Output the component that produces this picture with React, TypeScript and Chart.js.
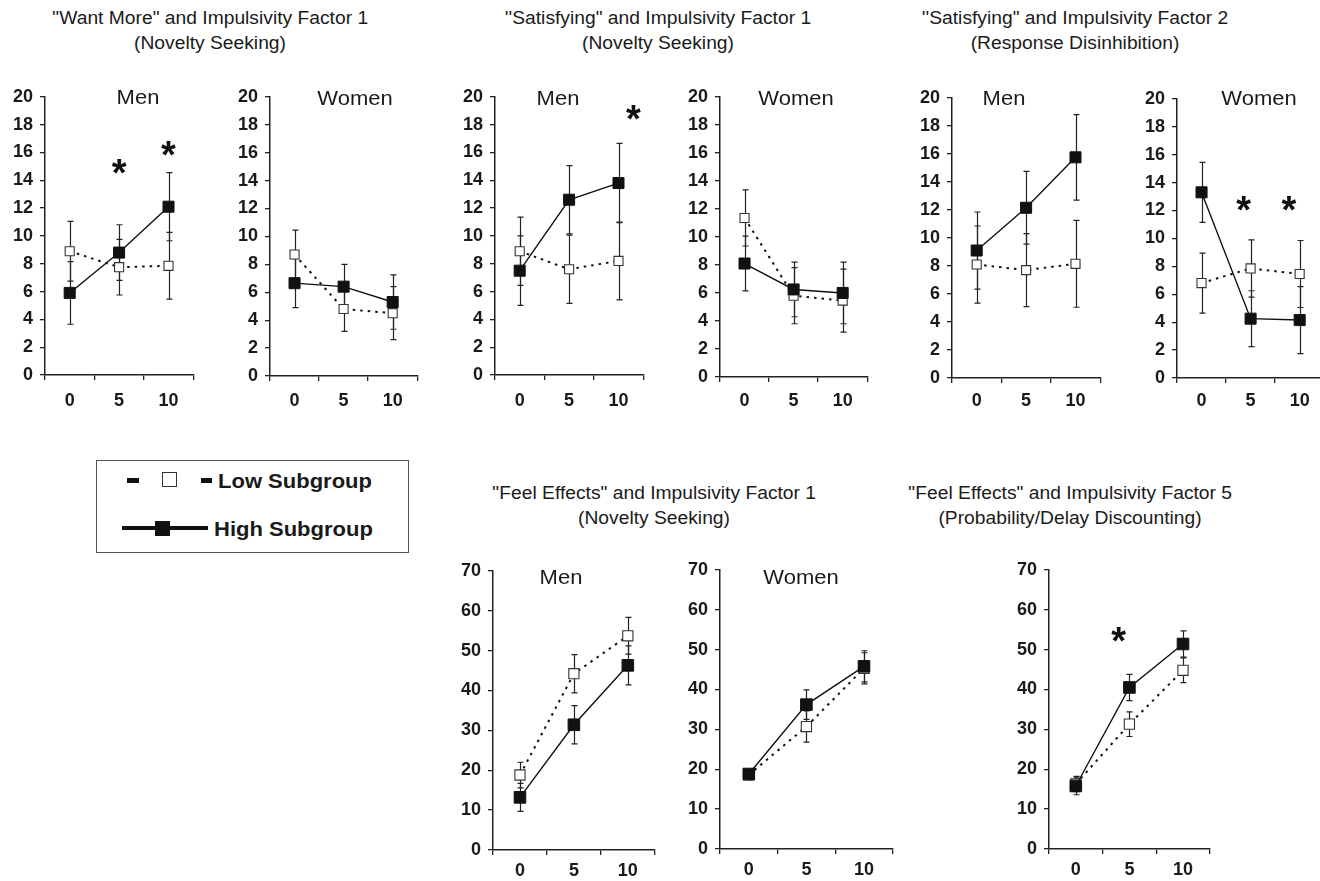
import React, { useEffect, useRef } from "react";
import { Chart, registerables } from "chart.js";

Chart.register(...registerables);

// ---------- shared axis values ----------
const doseLabels = ["0", "5", "10"];
const smallMax = 20;
const smallStep = 2;
const largeMax = 70;
const largeStep = 10;

// ---------- "Want More" & Impulsivity Factor 1 ----------
const wantMenHigh = [5.9, 8.8, 12.1];
const wantMenHighSE = [2.25, 2.0, 2.45];
const wantMenLow = [8.9, 7.75, 7.85];
const wantMenLowSE = [2.15, 2.0, 2.4];
const wantMenStars = [[1, 14.6], [2, 15.9]];

const wantWomenHigh = [6.65, 6.4, 5.3];
const wantWomenHighSE = [1.75, 1.6, 1.95];
const wantWomenLow = [8.7, 4.8, 4.5];
const wantWomenLowSE = [1.75, 1.6, 1.9];

// ---------- "Satisfying" & Impulsivity Factor 1 ----------
const satF1MenHigh = [7.5, 12.6, 13.8];
const satF1MenHighSE = [2.5, 2.45, 2.85];
const satF1MenLow = [8.9, 7.6, 8.2];
const satF1MenLowSE = [2.45, 2.45, 2.8];
const satF1MenStars = [[2.3, 18.45]];

const satF1WomenHigh = [8.1, 6.25, 6.0];
const satF1WomenHighSE = [1.95, 1.95, 2.2];
const satF1WomenLow = [11.35, 5.8, 5.45];
const satF1WomenLowSE = [2.0, 2.0, 2.25];

// ---------- "Satisfying" & Impulsivity Factor 2 ----------
const satF2MenHigh = [9.1, 12.15, 15.75];
const satF2MenHighSE = [2.75, 2.6, 3.05];
const satF2MenLow = [8.1, 7.7, 8.15];
const satF2MenLowSE = [2.75, 2.6, 3.1];

const satF2WomenHigh = [13.3, 4.25, 4.15];
const satF2WomenHighSE = [2.15, 2.0, 2.4];
const satF2WomenLow = [6.8, 7.85, 7.45];
const satF2WomenLowSE = [2.15, 2.05, 2.4];
const satF2WomenStars = [[0.86, 12.1], [1.78, 12.1]];

// ---------- "Feel Effects" & Impulsivity Factor 1 ----------
const feelF1MenHigh = [13.2, 31.4, 46.3];
const feelF1MenHighSE = [3.5, 4.8, 4.9];
const feelF1MenLow = [18.8, 44.2, 53.7];
const feelF1MenLowSE = [3.2, 4.8, 4.6];

const feelF1WomenHigh = [18.8, 36.2, 45.8];
const feelF1WomenHighSE = [1.2, 3.7, 3.9];
const feelF1WomenLow = [18.6, 30.7, 45.3];
const feelF1WomenLowSE = [1.2, 3.9, 3.9];

// ---------- "Feel Effects" & Impulsivity Factor 5 ----------
const feelF5High = [15.8, 40.5, 51.4];
const feelF5HighSE = [2.2, 3.3, 3.3];
const feelF5Low = [16.3, 31.3, 44.8];
const feelF5LowSE = [1.9, 3.1, 3.1];
const feelF5Stars = [[0.8, 52.5]];

// ---------- text ----------
const titles = [
  { lines: ["''Want More\" and Impulsivity Factor 1", "(Novelty Seeking)"], cx: 210, cy: 18 },
  { lines: ["''Satisfying\" and Impulsivity Factor 1", "(Novelty Seeking)"], cx: 658, cy: 18 },
  { lines: ["''Satisfying\" and Impulsivity Factor 2", "(Response Disinhibition)"], cx: 1075, cy: 18 },
  { lines: ["''Feel Effects\" and Impulsivity Factor 1", "(Novelty Seeking)"], cx: 654, cy: 493 },
  { lines: ["''Feel Effects\" and Impulsivity Factor 5", "(Probability/Delay Discounting)"], cx: 1070, cy: 493 },
];

const FONT = '"Liberation Sans", Arial, Helvetica, sans-serif';
const INK = "#1a1a1a";

const errorBarPlugin = {
  id: "errorBars",
  beforeDatasetsDraw(chart: any) {
    const ctx = chart.ctx;
    const ys = chart.scales.y;
    chart.data.datasets.forEach((ds: any, i: number) => {
      const errs = ds.errors;
      if (!errs) return;
      const meta = chart.getDatasetMeta(i);
      ctx.save();
      ctx.strokeStyle = "#222";
      ctx.lineWidth = 1.2;
      meta.data.forEach((pt: any, j: number) => {
        const v = ds.data[j];
        const e = errs[j];
        const x = Math.round(pt.x) + 0.5;
        const yt = ys.getPixelForValue(v + e);
        const yb = ys.getPixelForValue(v - e);
        ctx.beginPath();
        ctx.moveTo(x, yt);
        ctx.lineTo(x, yb);
        ctx.moveTo(x - 3, yt);
        ctx.lineTo(x + 3, yt);
        ctx.moveTo(x - 3, yb);
        ctx.lineTo(x + 3, yb);
        ctx.stroke();
      });
      ctx.restore();
    });
  },
};

const starPlugin = {
  id: "stars",
  afterDatasetsDraw(chart: any, _args: any, opts: any) {
    const pts = (opts && opts.points) || [];
    const ctx = chart.ctx;
    const size = 38;
    ctx.save();
    ctx.fillStyle = "#111";
    ctx.font = `bold ${size}px ${FONT}`;
    ctx.textAlign = "center";
    ctx.textBaseline = "alphabetic";
    pts.forEach((p: number[]) => {
      const x = chart.scales.x.getPixelForValue(p[0]);
      const y = chart.scales.y.getPixelForValue(p[1]);
      ctx.fillText("*", x, y + size * 0.37);
    });
    ctx.restore();
  },
};

type Spec = {
  l: number; t: number; r: number; b: number;
  high: number[]; highSE: number[]; low: number[]; lowSE: number[];
  stars?: number[][];
  max: number; step: number; big: boolean; xPad: number;
};

const panels: Spec[] = [
  { l: 45, t: 93, r: 196, b: 375, high: wantMenHigh, highSE: wantMenHighSE, low: wantMenLow, lowSE: wantMenLowSE, stars: wantMenStars, max: smallMax, step: smallStep, big: false, xPad: 10 },
  { l: 270, t: 93, r: 420, b: 376, high: wantWomenHigh, highSE: wantWomenHighSE, low: wantWomenLow, lowSE: wantWomenLowSE, max: smallMax, step: smallStep, big: false, xPad: 9 },
  { l: 495, t: 93, r: 646, b: 375, high: satF1MenHigh, highSE: satF1MenHighSE, low: satF1MenLow, lowSE: satF1MenLowSE, stars: satF1MenStars, max: smallMax, step: smallStep, big: false, xPad: 10 },
  { l: 720, t: 93, r: 870, b: 377, high: satF1WomenHigh, highSE: satF1WomenHighSE, low: satF1WomenLow, lowSE: satF1WomenLowSE, max: smallMax, step: smallStep, big: false, xPad: 8 },
  { l: 952, t: 94, r: 1103, b: 378, high: satF2MenHigh, highSE: satF2MenHighSE, low: satF2MenLow, lowSE: satF2MenLowSE, max: smallMax, step: smallStep, big: false, xPad: 7 },
  { l: 1177, t: 95, r: 1327, b: 378, high: satF2WomenHigh, highSE: satF2WomenHighSE, low: satF2WomenLow, lowSE: satF2WomenLowSE, stars: satF2WomenStars, max: smallMax, step: smallStep, big: false, xPad: 7 },
  { l: 493, t: 567, r: 658, b: 850, high: feelF1MenHigh, highSE: feelF1MenHighSE, low: feelF1MenLow, lowSE: feelF1MenLowSE, max: largeMax, step: largeStep, big: true, xPad: 5 },
  { l: 720, t: 566, r: 896, b: 849, high: feelF1WomenHigh, highSE: feelF1WomenHighSE, low: feelF1WomenLow, lowSE: feelF1WomenLowSE, max: largeMax, step: largeStep, big: true, xPad: 5 },
  { l: 1049, t: 566, r: 1213, b: 849, high: feelF5High, highSE: feelF5HighSE, low: feelF5Low, lowSE: feelF5LowSE, stars: feelF5Stars, max: largeMax, step: largeStep, big: true, xPad: 5 },
];

const sexLabels = [
  { text: "Men", cx: 138, cy: 97 },
  { text: "Women", cx: 355, cy: 98 },
  { text: "Men", cx: 558, cy: 98 },
  { text: "Women", cx: 796, cy: 98 },
  { text: "Men", cx: 1004, cy: 98 },
  { text: "Women", cx: 1259, cy: 98 },
  { text: "Men", cx: 561, cy: 577 },
  { text: "Women", cx: 801, cy: 577 },
];

const Y_W = 45;
const PAD_T = 14;
const PAD_R = 6;
const X_H = 44;

function Panel({ spec }: { spec: Spec }) {
  const ref = useRef<HTMLCanvasElement>(null);
  const w = Y_W + (spec.r - spec.l) + PAD_R;
  const h = PAD_T + (spec.b - spec.t) + X_H;
  useEffect(() => {
    const tickFont = { family: FONT, size: 18, weight: "bold" as const };
    const chart = new Chart(ref.current as HTMLCanvasElement, {
      type: "line",
      data: {
        labels: doseLabels,
        datasets: [
          {
            data: spec.high,
            errors: spec.highSE,
            borderColor: "#111",
            borderWidth: 1.4,
            pointStyle: "rect",
            pointRadius: spec.big ? 8.2 : 7.8,
            pointBackgroundColor: "#111",
            pointBorderColor: "#111",
            pointBorderWidth: 1,
            tension: 0,
            fill: false,
          } as any,
          {
            data: spec.low,
            errors: spec.lowSE,
            borderColor: "#111",
            borderWidth: 2,
            borderDash: [2.5, 5],
            pointStyle: "rect",
            pointRadius: spec.big ? 7.2 : 6.4,
            pointBackgroundColor: "#ffffff",
            pointBorderColor: "#333",
            pointBorderWidth: 1.1,
            tension: 0,
            fill: false,
          } as any,
        ],
      },
      options: {
        animation: false,
        responsive: false,
        maintainAspectRatio: false,
        layout: { padding: { left: 0, top: PAD_T, right: PAD_R, bottom: 0 } },
        plugins: {
          legend: { display: false },
          tooltip: { enabled: false },
          stars: { points: spec.stars || [] },
        } as any,
        scales: {
          x: {
            type: "category",
            offset: true,
            grid: { display: true, drawOnChartArea: false, offset: true, tickLength: 5, color: "#222", lineWidth: 1.3 },
            border: { display: true, color: "#222", width: 1.5 },
            ticks: { font: tickFont, color: INK, padding: spec.xPad, maxRotation: 0, autoSkip: false },
            afterFit: (s: any) => { s.height = X_H; },
          },
          y: {
            min: 0,
            max: spec.max,
            ticks: { stepSize: spec.step, font: tickFont, color: INK, padding: 7 },
            grid: { display: true, drawOnChartArea: false, tickLength: 5, color: "#222", lineWidth: 1.3 },
            border: { display: true, color: "#222", width: 1.5 },
            afterFit: (s: any) => { s.width = Y_W; },
          },
        },
      } as any,
      plugins: [errorBarPlugin, starPlugin],
    } as any);
    return () => chart.destroy();
  }, []);
  return (
    <canvas
      ref={ref}
      width={w}
      height={h}
      style={{ position: "absolute", left: spec.l - Y_W, top: spec.t - PAD_T, width: w, height: h }}
    />
  );
}

function TextAt({ text, cx, cy, size, bold, stretch }: { text: string; cx: number; cy: number; size: number; bold?: boolean; stretch?: number }) {
  return (
    <div
      style={{
        position: "absolute",
        left: cx - 300,
        top: cy - size * 0.59,
        width: 600,
        textAlign: "center",
        fontFamily: FONT,
        fontSize: size,
        fontWeight: bold ? "bold" : "normal",
        lineHeight: `${size * 1.2}px`,
        whiteSpace: "nowrap",
        color: INK,
        transform: `scaleX(${stretch ?? 1.1})`,
        transformOrigin: "center",
      }}
    >
      {text}
    </div>
  );
}

function LeftText({ text, left, cy, size }: { text: string; left: number; cy: number; size: number }) {
  return (
    <div
      style={{
        position: "absolute",
        left,
        top: cy - size * 0.59,
        fontFamily: FONT,
        fontSize: size,
        fontWeight: "bold",
        lineHeight: `${size * 1.2}px`,
        whiteSpace: "nowrap",
        color: INK,
        transform: "scaleX(1.1)",
        transformOrigin: "left center",
      }}
    >
      {text}
    </div>
  );
}

function Legend() {
  const box = (s: React.CSSProperties) => <div style={{ position: "absolute", ...s }} />;
  return (
    <>
      {box({ left: 96, top: 460, width: 311, height: 91, border: "1px solid #555", background: "#fff" })}
      {box({ left: 127, top: 478, width: 12, height: 5, background: "#111" })}
      {box({ left: 162, top: 472, width: 13, height: 13, border: "1.5px solid #333", background: "#fff" })}
      {box({ left: 201, top: 478, width: 11, height: 5, background: "#111" })}
      <LeftText text="Low Subgroup" left={218} cy={481} size={20} />
      {box({ left: 122, top: 526, width: 86, height: 4, background: "#111" })}
      {box({ left: 155, top: 521, width: 15, height: 15, background: "#111" })}
      <LeftText text="High Subgroup" left={214} cy={529} size={20} />
    </>
  );
}

export default function App() {
  return (
    <div style={{ position: "absolute", left: 0, top: 0, width: 1320, height: 881, overflow: "hidden", background: "#fff" }}>
      {titles.map((t, i) => (
        <React.Fragment key={i}>
          <TextAt text={t.lines[0]} cx={t.cx} cy={t.cy} size={17.5} />
          <TextAt text={t.lines[1]} cx={t.cx} cy={t.cy + 25} size={17.5} />
        </React.Fragment>
      ))}
      {panels.map((p, i) => (
        <Panel key={i} spec={p} />
      ))}
      {sexLabels.map((s, i) => (
        <TextAt key={i} text={s.text} cx={s.cx} cy={s.cy} size={20} />
      ))}
      <Legend />
    </div>
  );
}
